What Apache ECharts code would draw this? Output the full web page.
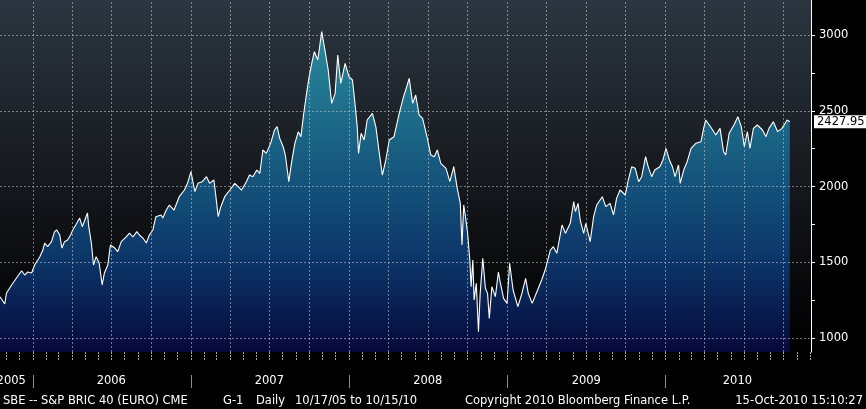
<!DOCTYPE html>
<html>
<head>
<meta charset="utf-8">
<script src="https://cdn.jsdelivr.net/npm/echarts@6/dist/echarts.min.js"></script>
<style>
html,body{margin:0;padding:0;background:#000;}
#chart{width:866px;height:409px;}
</style>
</head>
<body>
<div id="chart"></div>
<script>
const dates = [
'2005-10-17','2005-10-21','2005-10-28','2005-11-01','2005-11-13','2005-11-24','2005-12-06','2005-12-13','2005-12-20','2005-12-29',
'2006-01-05','2006-01-17','2006-01-24','2006-01-28','2006-02-04','2006-02-13','2006-02-20','2006-02-25','2006-03-04','2006-03-09',
'2006-03-15','2006-03-22','2006-03-29','2006-04-03','2006-04-10','2006-04-19','2006-04-25','2006-05-01','2006-05-07','2006-05-10',
'2006-05-16','2006-05-21','2006-05-27','2006-06-03','2006-06-10','2006-06-15','2006-06-23','2006-06-29','2006-07-09','2006-07-16',
'2006-07-24','2006-08-05','2006-08-12','2006-08-20','2006-08-29','2006-09-04','2006-09-12','2006-09-20','2006-09-27','2006-10-05',
'2006-10-12','2006-10-24','2006-10-28','2006-11-05','2006-11-12','2006-11-23','2006-12-05','2006-12-17','2006-12-24','2007-01-01',
'2007-01-10','2007-01-17','2007-01-27','2007-02-06','2007-02-13','2007-02-23','2007-03-01','2007-03-05','2007-03-11','2007-03-20',
'2007-04-01','2007-04-12','2007-04-20','2007-04-28','2007-05-09','2007-05-16','2007-05-24','2007-06-02','2007-06-09','2007-06-16',
'2007-06-24','2007-07-04','2007-07-13','2007-07-19','2007-07-25','2007-08-02','2007-08-07','2007-08-15','2007-08-21','2007-08-29',
'2007-09-06','2007-09-12','2007-09-18','2007-09-25','2007-10-01','2007-10-07','2007-10-13','2007-10-21','2007-10-30','2007-11-05',
'2007-11-14','2007-11-22','2007-11-30','2007-12-06','2007-12-13','2007-12-23','2008-01-01','2008-01-09','2008-01-14','2008-01-20',
'2008-01-23','2008-01-29','2008-02-05','2008-02-12','2008-02-24','2008-03-03','2008-03-10','2008-03-18','2008-03-26','2008-04-03',
'2008-04-14','2008-04-26','2008-05-06','2008-05-11','2008-05-19','2008-05-27','2008-06-03','2008-06-11','2008-06-19','2008-06-30',
'2008-07-08','2008-07-16','2008-07-23','2008-07-31','2008-08-12','2008-08-21','2008-08-30','2008-09-07','2008-09-14','2008-09-18',
'2008-09-22','2008-09-26','2008-10-01','2008-10-06','2008-10-09','2008-10-13','2008-10-16','2008-10-21','2008-10-26','2008-10-30',
'2008-11-05','2008-11-11','2008-11-16','2008-11-20','2008-11-26','2008-12-04','2008-12-11','2008-12-15','2008-12-23','2008-12-31',
'2009-01-06','2009-01-14','2009-01-25','2009-02-03','2009-02-12','2009-02-18','2009-02-27','2009-03-10','2009-03-21','2009-03-29',
'2009-04-10','2009-04-17','2009-04-25','2009-05-07','2009-05-15','2009-05-26','2009-06-03','2009-06-07','2009-06-13','2009-06-18',
'2009-06-26','2009-07-01','2009-07-11','2009-07-19','2009-07-26','2009-08-08','2009-08-16','2009-08-26','2009-09-03','2009-09-10',
'2009-09-18','2009-09-30','2009-10-07','2009-10-15','2009-10-23','2009-10-31','2009-11-07','2009-11-16','2009-11-22','2009-11-30',
'2009-12-07','2009-12-19','2009-12-26','2010-01-02','2010-01-10','2010-01-17','2010-01-23','2010-01-31','2010-02-04','2010-02-12',
'2010-02-20','2010-03-01','2010-03-12','2010-03-24','2010-03-30','2010-04-04','2010-04-12','2010-04-20','2010-04-27','2010-05-07',
'2010-05-15','2010-05-20','2010-05-28','2010-06-08','2010-06-17','2010-06-25','2010-07-02','2010-07-09','2010-07-15','2010-07-23',
'2010-08-01','2010-08-13','2010-08-21','2010-08-28','2010-09-07','2010-09-17','2010-09-27','2010-10-09','2010-10-15'
];
const closes = [
1273,1264,1225,1297,1350,1396,1444,1416,1436,1429,
1482,1537,1581,1627,1603,1636,1702,1713,1680,1594,
1636,1647,1680,1713,1746,1792,1735,1779,1825,1735,
1627,1482,1537,1495,1350,1429,1482,1614,1594,1570,
1636,1669,1693,1667,1702,1680,1660,1627,1680,1713,
1801,1812,1792,1845,1878,1845,1933,1977,2021,2098,
1966,2021,2032,2065,2021,2043,1900,1801,1867,1933,
1977,2021,2000,1977,2032,2076,2065,2109,2087,2241,
2219,2285,2373,2395,2318,2263,2208,2032,2153,2285,
2362,2329,2472,2615,2725,2813,2890,2835,3022,2923,
2769,2549,2615,2868,2681,2813,2725,2703,2571,2395,
2219,2351,2307,2439,2483,2395,2241,2076,2175,2307,
2329,2483,2593,2637,2714,2549,2604,2472,2450,2318,
2208,2197,2241,2153,2120,2032,2131,1988,1889,1614,
1878,1801,1691,1515,1339,1515,1251,1361,1042,1295,
1526,1330,1295,1130,1339,1273,1436,1372,1262,1229,
1493,1317,1207,1291,1394,1295,1229,1306,1383,1449,
1581,1603,1559,1746,1691,1757,1900,1834,1889,1779,
1691,1757,1636,1801,1878,1933,1867,1889,1812,1922,
1977,1944,2043,2131,2120,2032,2065,2197,2131,2065,
2109,2131,2175,2252,2175,2131,2065,2142,2021,2109,
2164,2252,2285,2296,2384,2439,2406,2373,2340,2384,
2230,2208,2351,2406,2461,2395,2263,2362,2252,2384,
2406,2373,2329,2384,2428,2362,2384,2439,2427.95
];
const yLabelValues = [1000, 1500, 2000, 2500, 3000];
const yTickValues = [1000, 1250, 1500, 1750, 2000, 2250, 2500, 2750, 3000];
const yearLabelDates = ['2005-11-12', '2006-07-01', '2007-07-01', '2008-07-01', '2009-07-02', '2010-06-16'];
const yearLabelTexts = ['2005', '2006', '2007', '2008', '2009', '2010'];
const yearStarts = ['2006-01-01', '2007-01-01', '2008-01-01', '2009-01-01', '2010-01-01'];
const footerTexts = ['SBE -- S&P BRIC 40 (EURO) CME', 'G-1', 'Daily', '10/17/05 to 10/15/10', 'Copyright 2010 Bloomberg Finance L.P.', '15-Oct-2010 15:10:27'];
const lastLabel = '2427.95';

// ---- axis helpers (dates as UTC timestamps on a value axis) ----
const toTs = s => { const p = s.split('-'); return Date.UTC(+p[0], +p[1] - 1, +p[2]); };
const xMin = '2005-10-17', xMax = '2010-12-03';
const monthTicks = [];
const quarterLines = [];
for (let y = 2005; y <= 2010; y++) {
  for (let m = 1; m <= 12; m++) {
    const s = y + '-' + (m < 10 ? '0' + m : m) + '-01';
    if (s <= xMin || s >= xMax) continue;
    monthTicks.push(toTs(s));
    if ((m - 1) % 3 === 0) quarterLines.push(toTs(s));
  }
}
const yearLabelTs = yearLabelDates.map(toTs);

const chart = echarts.init(document.getElementById('chart'), null, {renderer: 'canvas'});
const seriesData = dates.map((d, i) => [toTs(d), closes[i]]);
const gridMarks = [];
yLabelValues.forEach(v => gridMarks.push({yAxis: v}));
quarterLines.forEach(t => gridMarks.push({xAxis: t}));
gridMarks.push({
  yAxis: closes[closes.length - 1],
  lineStyle: {color: 'rgba(0,0,0,0)', width: 1, type: 'solid'},
  label: {
    show: true, position: 'end', distance: 3,
    formatter: lastLabel,
    backgroundColor: '#ffffff', color: '#000000',
    padding: [1, 2, 0, 3], fontSize: 11.5, fontFamily: 'DejaVu Sans'
  }
});

const option = {
  animation: false,
  backgroundColor: '#000000',
  textStyle: {fontFamily: 'DejaVu Sans'},
  grid: {
    left: 0, right: 55, top: 0, bottom: 57,
    containLabel: false, outerBoundsMode: 'none',
    show: true, borderWidth: 0,
    backgroundColor: new echarts.graphic.LinearGradient(0, 0, 0, 1, [
      {offset: 0, color: '#2c3640'},
      {offset: 0.45, color: '#181c21'},
      {offset: 0.8, color: '#08090b'},
      {offset: 1, color: '#000000'}
    ])
  },
  xAxis: [{
    type: 'value', min: toTs(xMin), max: toTs(xMax),
    axisLine: {show: false},
    axisTick: {show: true, customValues: monthTicks, length: 8, lineStyle: {color: 'rgba(230,230,230,0.7)', width: 1, type: [2, 1]}},
    axisLabel: {
      show: true, customValues: yearLabelTs, margin: 23,
      color: '#ffffff', fontSize: 11.5,
      formatter: v => {
        const i = yearLabelTs.indexOf(v);
        return i >= 0 ? yearLabelTexts[i] : '';
      }
    },
    splitLine: {show: false}
  }, {
    type: 'value', min: toTs(xMin), max: toTs(xMax), position: 'bottom', offset: 23,
    axisLine: {show: false},
    axisTick: {show: true, customValues: yearStarts.map(toTs), length: 13, lineStyle: {color: '#8a8a8a', width: 1}},
    axisLabel: {show: false},
    splitLine: {show: false}
  }],
  yAxis: {
    type: 'value', position: 'right', min: 908, max: 3231,
    axisLine: {show: true, lineStyle: {color: '#ffffff', width: 1}},
    axisTick: {show: true, customValues: yTickValues, length: 4, lineStyle: {color: '#ffffff'}},
    axisLabel: {show: true, customValues: yLabelValues, margin: 8, color: '#ffffff', fontSize: 11.5, formatter: v => String(v)},
    splitLine: {show: false}
  },
  graphic: [
    {type: 'text', left: 3, top: 395, style: {text: footerTexts[0], fill: '#ffffff', font: '11.5px "DejaVu Sans"'}},
    {type: 'text', left: 223, top: 395, style: {text: footerTexts[1], fill: '#ffffff', font: '11.5px "DejaVu Sans"'}},
    {type: 'text', left: 256, top: 395, style: {text: footerTexts[2], fill: '#ffffff', font: '11.5px "DejaVu Sans"'}},
    {type: 'text', left: 295, top: 395, style: {text: footerTexts[3], fill: '#ffffff', font: '11.5px "DejaVu Sans"'}},
    {type: 'text', left: 465, top: 395, style: {text: footerTexts[4], fill: '#ffffff', font: '11.5px "DejaVu Sans"'}},
    {type: 'text', right: 3, top: 395, style: {text: footerTexts[5], fill: '#ffffff', font: '11.5px "DejaVu Sans"'}}
  ],
  series: [{
    type: 'line',
    data: seriesData,
    showSymbol: false, symbol: 'none',
    lineStyle: {color: '#ffffff', width: 1.1},
    areaStyle: {
      color: {
        type: 'linear', x: 0, y: 0, x2: 0, y2: 352, global: true,
        colorStops: [
          {offset: 0.08, color: '#2a8c9d'},
          {offset: 0.37, color: '#1b6686'},
          {offset: 0.57, color: '#124c77'},
          {offset: 0.75, color: '#0c3367'},
          {offset: 1, color: '#06093a'}
        ]
      },
      opacity: 1
    },
    markLine: {
      silent: true, symbol: ['none', 'none'],
      label: {show: false},
      lineStyle: {color: 'rgba(200,205,210,0.55)', width: 1, type: [2, 2]},
      data: gridMarks
    }
  }]
};
chart.setOption(option);
</script>
</body>
</html>
